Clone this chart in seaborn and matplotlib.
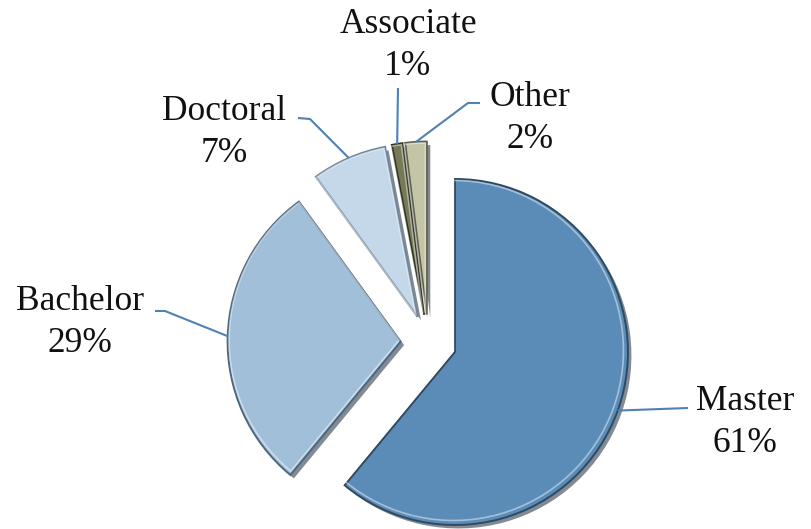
import numpy as np
import matplotlib
matplotlib.use("Agg")
import matplotlib.pyplot as plt
import matplotlib.patheffects as pe
import seaborn as sns

# Degree share of respondents
categories = ["Master", "Bachelor", "Doctoral", "Associate", "Other"]
shares = [61, 29, 7, 1, 2]
pct_labels = ["61%", "29%", "7%", "1%", "2%"]

slice_colors = ["#5B8CB7", "#A1BFD9", "#C5D8EA", "#767B55", "#C3C5A6"]
edge_colors = ["#2E4A63", "#4D6780", "#6D8499", "#2F321F", "#5E604A"]

sns.set_theme(style="white")
plt.rcParams["font.family"] = ["Liberation Serif", "DejaVu Serif"]

W, H = 812, 529
fig = plt.figure(figsize=(W / 100, H / 100), dpi=100)
ax = fig.add_axes([0, 0, 1, 1])

center = (428.6, H - 342.5)
radius = 173
gap = 28

wedges, _ = ax.pie(
    shares,
    colors=slice_colors,
    startangle=90,
    counterclock=False,
    center=center,
    radius=radius,
    explode=[gap] * len(shares),
    wedgeprops=dict(linewidth=1.4),
)
for w, ec in zip(wedges, edge_colors):
    w.set_edgecolor(ec)
    w.set_path_effects([
        pe.SimplePatchShadow(offset=(2.5, -2.5), shadow_rgbFace="#1d2b38", alpha=0.55),
        pe.Normal(),
    ])

# soft highlight along the upper-left rims
for w in wedges:
    cx, cy = w.center
    hl = matplotlib.patches.Wedge((cx - 1.5, cy + 1.5), w.r - 3, w.theta1, w.theta2,
                                  facecolor="none", edgecolor="white", linewidth=1.2,
                                  alpha=0.45)
    ax.add_patch(hl)

ax.set_xlim(0, W)
ax.set_ylim(0, H)
ax.set_aspect("equal")
ax.axis("off")

# label anchors: centre x and baseline of the percentage line (pixels from top-left)
label_pos = {
    "Master": (745, 452),
    "Bachelor": (80, 352),
    "Doctoral": (224, 162),
    "Associate": (408, 75),
    "Other": (530, 148),
}
leader_pts = {
    "Master": [(688, 408)],
    "Bachelor": [(165, 311), (155, 311)],
    "Doctoral": [(310, 119), (298, 118)],
    "Associate": [(398, 88)],
    "Other": [(468, 103), (480, 103)],
}
line_color = "#4F81B3"

for w, cat, pct in zip(wedges, categories, pct_labels):
    mid = np.deg2rad(0.5 * (w.theta1 + w.theta2))
    cx, cy = w.center
    sx, sy = cx + w.r * np.cos(mid), cy + w.r * np.sin(mid)
    xs = [sx] + [p[0] for p in leader_pts[cat]]
    ys = [sy] + [H - p[1] for p in leader_pts[cat]]
    ax.plot(xs, ys, color=line_color, linewidth=1.5, solid_capstyle="butt", zorder=1)
    tx, ty = label_pos[cat]
    ax.text(tx, H - ty, f"{cat}\n{pct}", ha="center", va="baseline",
            fontsize=25.5, color="#111111", linespacing=1.36)

fig.savefig("out.png", dpi=100, facecolor="white")
